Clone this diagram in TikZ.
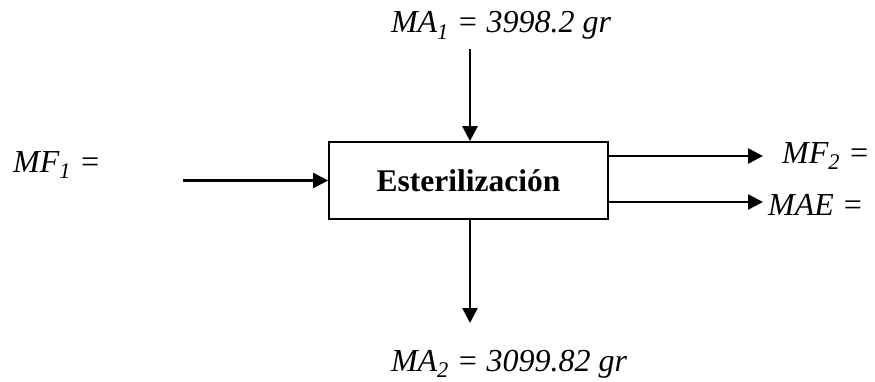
\documentclass[tikz,border=0pt]{standalone}
\usepackage{fontspec}
\setmainfont{Liberation Serif}
\usetikzlibrary{arrows.meta}

\begin{document}
\begin{tikzpicture}[x=1pt, y=1pt,
			flow/.style={-{Triangle[length=15pt,width=15pt]}, line width=2.4pt},   %Pfeile
			proc/.style={draw, line width=1.7pt, minimum width=279pt, minimum height=77pt, font=\fontsize{31.5}{36}\selectfont\bfseries},
			lbl/.style={inner sep=0pt, font=\fontsize{32}{36}\selectfont\itshape}]
			%Bildbereich
			\useasboundingbox (0,0) rectangle (875,381);
			% Prozess
			\node[proc] (ester) at (468.5,200.5) {Esterilización};
			% Beschriftungen
			\node[lbl, anchor=base] (ma1) at (501,348) {MA\textsubscript{1} = 3998.2 gr};
			\node[lbl, anchor=base west] (mf1) at (13,209) {MF\textsubscript{1} =};
			\node[lbl, anchor=base west] (mf2) at (782,218) {MF\textsubscript{2} =};
			\node[lbl, anchor=base west] (mae) at (768,166) {MAE =};
			\node[lbl, anchor=base] (ma2) at (509,10) {MA\textsubscript{2} = 3099.82 gr};
			% freie Pfeilenden
			\coordinate (ma1in) at (470,332);
			\coordinate (ma2out) at (470,58);
			\coordinate (mf1in) at (183,200.5);
			\coordinate (mf2out) at (763,225);
			\coordinate (maeout) at (763,179);
			% Pfeile zeichnen
			\draw[flow] (ma1in) -- (ma1in |- ester.north);
			\draw[flow] (ma2out |- ester.south) -- (ma2out);
			\draw[flow] (mf1in) -- (ester.west);
			\draw[flow] (ester.east |- mf2out) -- (mf2out);
			\draw[flow] (ester.east |- maeout) -- (maeout);
		\end{tikzpicture}
\end{document}
